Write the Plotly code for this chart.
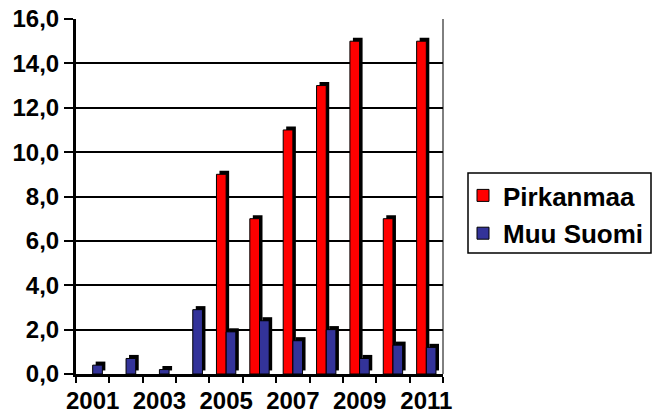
import plotly.graph_objects as go

# Data
years = [2001, 2002, 2003, 2004, 2005, 2006, 2007, 2008, 2009, 2010, 2011]
pirkanmaa = [0, 0, 0, 0, 9.0, 7.0, 11.0, 13.0, 15.0, 7.0, 15.0]
muu_suomi = [0.4, 0.7, 0.2, 2.9, 1.9, 2.4, 1.5, 2.0, 0.7, 1.3, 1.2]
label_years = [2001, 2003, 2005, 2007, 2009, 2011]
y_ticks = [0, 2, 4, 6, 8, 10, 12, 14, 16]

RED = "#FF0000"
BLUE = "#333399"
BAR_W = 0.29
DX = 0.09     # pseudo-3D depth, x (category units)
DY = 0.16     # pseudo-3D depth, y (value units)

FONT = "Liberation Sans"
W, H = 661, 417
ML, MR, MT, MB = 76, 218, 19, 43
PW, PH = W - ML - MR, H - MT - MB


def bold(s):
    return "<b>" + s + "</b>"


def px_to_paper(x, y):
    return (x - ML) / PW, (H - MB - y) / PH


fig = go.Figure()


def add_series(name, values, color, offset):
    shown = [v if v > 0 else None for v in values]
    # dark extruded block behind the front face
    fig.add_trace(go.Bar(
        x=years, y=shown, base=DY,
        offset=offset + DX, width=BAR_W,
        marker=dict(color="#000000", line=dict(width=0)),
        showlegend=False, hoverinfo="skip",
    ))
    # front face
    fig.add_trace(go.Bar(
        x=years, y=shown, name=bold(name),
        offset=offset, width=BAR_W,
        marker=dict(color=color, line=dict(color="#000000", width=1)),
        legendgroup=name,
    ))


add_series("Pirkanmaa", pirkanmaa, RED, -BAR_W)
add_series("Muu Suomi", muu_suomi, BLUE, 0.0)

# legend frame
bx0, by0 = px_to_paper(468, 253)
bx1, by1 = px_to_paper(651, 173)

fig.update_layout(
    width=W, height=H,
    margin=dict(l=ML, r=MR, t=MT, b=MB, autoexpand=False),
    paper_bgcolor="white", plot_bgcolor="white",
    barmode="overlay",
    font=dict(family=FONT, size=24, color="#000000"),
    showlegend=True,
    legend=dict(
        xref="container", yref="container",
        x=463 / W, y=1 - 172 / H, xanchor="left", yanchor="top",
        borderwidth=0, bgcolor="rgba(0,0,0,0)",
        font=dict(family=FONT, size=26, color="#000000"),
        traceorder="grouped", tracegroupgap=1,
        itemwidth=30,
    ),
    shapes=[
        dict(type="line", xref="paper", yref="paper",
             x0=1, x1=1, y0=0, y1=1,
             line=dict(color="#000000", width=1)),
        dict(type="rect", xref="paper", yref="paper",
             x0=bx0, x1=bx1, y0=by0, y1=by1,
             fillcolor="white", line=dict(color="#000000", width=1.5),
             layer="below"),
    ],
)

fig.update_xaxes(
    range=[2000.5, 2011.5],
    tickmode="array", tickvals=label_years,
    ticktext=[bold(str(y)) for y in label_years],
    ticks="", showgrid=False, ticklabelstandoff=3,
    showline=True, linecolor="#000000", linewidth=2.5,
    minor=dict(tickmode="linear", tick0=2000.5, dtick=1, ticks="outside",
               ticklen=6, tickwidth=1.5, tickcolor="#000000", showgrid=False),
    tickfont=dict(family=FONT, size=24, color="#000000"),
    automargin=False, fixedrange=True,
)

fig.update_yaxes(
    range=[0, 16], tickmode="array", tickvals=y_ticks,
    ticktext=[bold(("%.1f" % v).replace(".", ",")) for v in y_ticks],
    showgrid=True, gridcolor="#000000", gridwidth=2,
    showline=True, linecolor="#000000", linewidth=3,
    ticks="outside", ticklen=9, tickwidth=1.5, tickcolor="#000000",
    tickfont=dict(family=FONT, size=24, color="#000000"),
    zeroline=False, automargin=False, fixedrange=True,
)

fig.write_html("out.html")
